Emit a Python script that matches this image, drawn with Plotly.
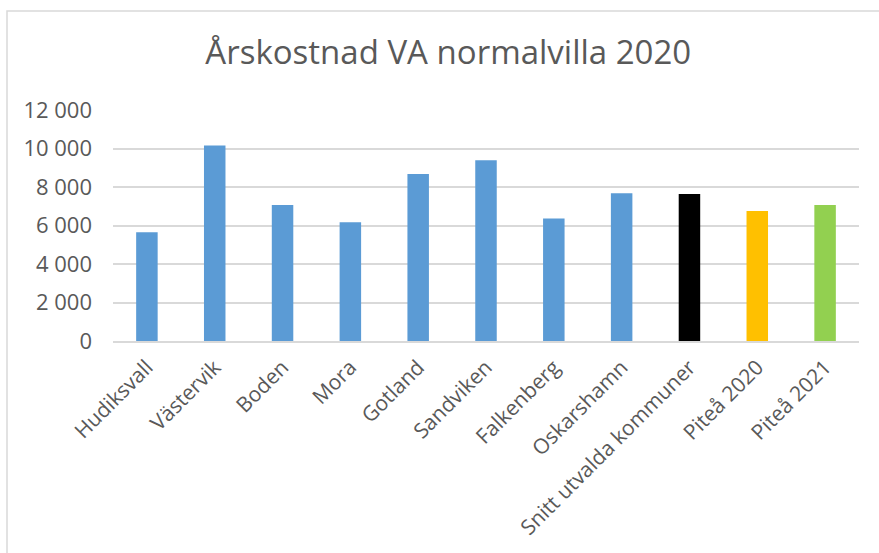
import plotly.graph_objects as go

# Annual water & sewage cost for a standard detached house, 2020 (SEK)
kommuner = ["Hudiksvall", "Västervik", "Boden", "Mora", "Gotland", "Sandviken",
            "Falkenberg", "Oskarshamn", "Snitt utvalda kommuner", "Piteå 2020", "Piteå 2021"]
kostnad = [5650, 10150, 7060, 6170, 8680, 9390, 6370, 7670, 7640, 6750, 7070]
farger = ["#5B9BD5"] * 8 + ["#000000", "#FFC000", "#92D050"]

y_ticks = [0, 2000, 4000, 6000, 8000, 10000, 12000]
y_tick_text = ["0", "2 000", "4 000", "6 000", "8 000", "10 000", "12 000"]

W, H = 879, 553
L, R, T, B = 113, 20, 110, 212
pw, ph = W - L - R, H - T - B

fig = go.Figure(go.Bar(
    x=kommuner, y=kostnad,
    marker=dict(color=farger, line=dict(width=0)),
    hoverinfo="x+y",
))

text_col = "#595959"
grid_col = "#D9D9D9"

fig.update_layout(
    width=W, height=H,
    margin=dict(l=L, r=R, t=T, b=B, autoexpand=False),
    paper_bgcolor="white", plot_bgcolor="white",
    bargap=0.683,
    showlegend=False,
    font=dict(family="Open Sans, sans-serif", color=text_col),
    title=dict(
        text="Årskostnad VA normalvilla 2020",
        x=0.51, xanchor="center", y=1 - 52 / H, yanchor="middle",
        font=dict(size=33, color=text_col, family="Open Sans, sans-serif"),
    ),
    xaxis=dict(
        type="category",
        tickangle=-45,
        tickfont=dict(size=21, color=text_col),
        showline=True, linecolor=grid_col, linewidth=1.5,
        showgrid=False, ticks="",
        ticklabelstandoff=4,
        automargin=False,
    ),
    yaxis=dict(
        range=[0, 12000],
        tickvals=y_ticks, ticktext=y_tick_text,
        tickfont=dict(size=22, color=text_col),
        showgrid=True, gridcolor=grid_col, gridwidth=1.5,
        zeroline=False, showline=False, ticks="",
        ticklabelstandoff=20,
        automargin=False,
    ),
    shapes=[dict(
        type="rect", xref="paper", yref="paper",
        x0=(7 - L) / pw, x1=(W + 20 - L) / pw,
        y0=(H - B - (H + 20)) / ph, y1=(H - B - 11) / ph,
        line=dict(color=grid_col, width=1.5), fillcolor="rgba(0,0,0,0)",
        layer="below",
    )],
)

fig.write_html("out.html")
